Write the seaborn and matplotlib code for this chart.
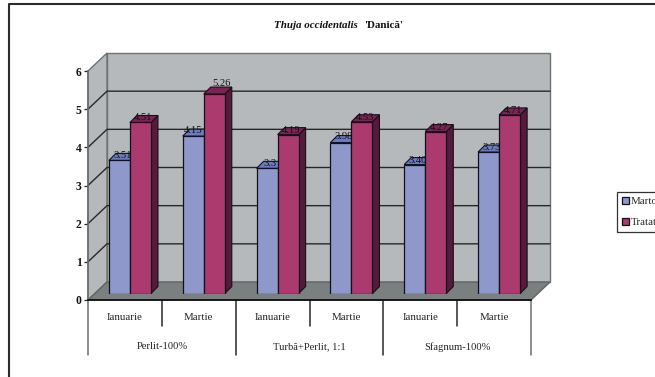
import matplotlib
matplotlib.use("Agg")
import matplotlib.pyplot as plt
import numpy as np
import pandas as pd
import seaborn as sns
from matplotlib.lines import Line2D
from matplotlib.patches import Polygon, Patch
from matplotlib.transforms import blended_transform_factory

sns.set_style("white")
plt.rcParams["font.family"] = ["Liberation Serif", "DejaVu Serif"]

# Measurements per substrate and month
substrates = ["Perlit-100%", "Turbă+Perlit, 1:1", "Sfagnum-100%"]
months = ["Ianuarie", "Martie", "Ianuarie", "Martie", "Ianuarie", "Martie"]
martor_labels = ["3.51", "4.15", "3.3", "3.98", "3.40", "3.73"]
tratat_labels = ["4.51", "5.26", "4.19", "4.53", "4.27", "4.71"]
y_ticks = [0, 1, 2, 3, 4, 5, 6]

W, H = 655, 377
BLUE, RED = "#8f98cb", "#ab3a6e"
BLUE_TOP, RED_TOP = "#6a7bc0", "#7d2354"
BLUE_SIDE, RED_SIDE = "#4c5690", "#551a3c"
EDGE = "#14101a"


def px_axes(fig, left, right, top, bottom):
    return fig.add_axes([left / W, 1 - bottom / H, (right - left) / W, (bottom - top) / H])


fig = plt.figure(figsize=(W / 100, H / 100), dpi=100, facecolor="white")

# Outer chart frame: only its left and top edges fall inside the canvas
fig.add_artist(Line2D([8.5 / W, 8.5 / W, 1], [0, 1 - 4 / H, 1 - 4 / H], color="#2c2c2c", lw=1.5))

# Front plane carries the axis lines, ticks and the walls of the 3D box
ax = px_axes(fig, 88, 531, 71, 300)
ax.set_zorder(2)
ax.set_xlim(-0.5, 5.5)
ax.set_ylim(0, 6)
ax.patch.set_visible(False)
sns.despine(ax=ax, top=True, right=True)
ax.spines["left"].set_color("#6f6f6f")
ax.spines["left"].set_linewidth(1.2)
ax.spines["bottom"].set_color("#111111")
ax.spines["bottom"].set_linewidth(1.3)
ax.set_yticks(y_ticks)
ax.set_yticklabels([str(t) for t in y_ticks], fontsize=8.4, fontweight="bold", color="#111111")
ax.tick_params(axis="y", left=True, length=3, width=0.9, color="#222222", pad=1.5)

slots = np.arange(len(months))
ax.set_xticks(slots)
ax.set_xticklabels(months, fontsize=7.8, color="#222222")
ax.tick_params(axis="x", bottom=False, length=0, pad=9.5)

# Two-level category axis: short dividers between months, long ones between substrates
xt = blended_transform_factory(ax.transData, ax.transAxes)
for b in np.arange(-0.5, 6.0, 1.0):
    is_group = int(b + 0.5) % 2 == 0
    drop = 55 if is_group else 26
    colour = "#6f6f6f" if b in (-0.5, 5.5) else "#2a2a2a"
    ax.plot([b, b], [0, -drop / 229], transform=xt, color=colour, lw=1.1, clip_on=False, zorder=1)
for i, name in enumerate(substrates):
    ax.text(2 * i + 0.5, -46.7 / 229, name, transform=xt, ha="center", va="center",
            fontsize=7.6, color="#222222")


def front_px(x, y):
    return ax.transData.transform((x, y))


def face(points, **kw):
    fig.add_artist(Polygon(points, closed=True, transform=None, **kw))


# Walls, floor and gridlines of the box sit behind both axes
box = np.array([19, 18])
x0, x1 = ax.get_xlim()
wall = dict(facecolor="#b6b9bb", edgecolor="#6f7272", lw=1.0, zorder=0.2)
p00, p10, p06, p16 = front_px(x0, 0), front_px(x1, 0), front_px(x0, 6), front_px(x1, 6)
face([p00 + box, p10 + box, p16 + box, p06 + box], **wall)
face([p00, p00 + box, p06 + box, p06], **wall)
face([p00, p10, p10 + box, p00 + box], facecolor="#7a8080", edgecolor="#5f6464", lw=1.0, zorder=0.3)
for t in y_ticks[1:-1]:
    a, b = front_px(x0, t), front_px(x1, t)
    fig.add_artist(Line2D([a[0], a[0] + box[0], b[0] + box[0]], [a[1], a[1] + box[1], b[1] + box[1]],
                          transform=None, color="#262828", lw=1.0, zorder=0.4))

# Bars sit on their own transparent plane, slightly behind the front of the box
bar_ax = px_axes(fig, 93, 536, 66, 293.5)
bar_ax.set_zorder(3)
bar_ax.patch.set_visible(False)
frame = pd.DataFrame({
    "slot": np.tile(slots, 2),
    "value": [float(s) for s in martor_labels] + [float(s) for s in tratat_labels],
    "label": martor_labels + tratat_labels,
    "series": ["Martor"] * 6 + ["Tratat"] * 6,
})
sns.barplot(data=frame, x="slot", y="value", hue="series", hue_order=["Martor", "Tratat"],
            palette=[BLUE, RED], width=0.57, gap=0, saturation=1, edgecolor=EDGE, linewidth=0.9,
            legend=False, ax=bar_ax, zorder=3)
bar_ax.set_xlim(-0.5, 5.5)
bar_ax.set_ylim(0, 6)
bar_ax.set_axis_off()

# Extrude every bar: side and top faces, then the value above it
depth = 7
nudges = {"5.26": (7, 11), "4.15": (0, 6), "3.98": (3, 6)}
bars = sorted(bar_ax.patches, key=lambda r: r.get_x())
lookup = {(row.slot, row.series): row for row in frame.itertuples()}
for n, rect in enumerate(bars):
    is_blue = n % 2 == 0
    row = lookup[(n // 2, "Martor" if is_blue else "Tratat")]
    l, r = rect.get_x(), rect.get_x() + rect.get_width()
    (xl, yb) = bar_ax.transData.transform((l, 0))
    (xr, yt) = bar_ax.transData.transform((r, row.value))
    z = 2.0 + n * 0.01
    style = dict(edgecolor=EDGE, lw=0.8, zorder=z)
    bar_ax.add_patch(Polygon([(xr, yb), (xr + depth, yb + depth), (xr + depth, yt + depth), (xr, yt)],
                             transform=None, clip_on=False,
                             facecolor=BLUE_SIDE if is_blue else RED_SIDE, **style))
    bar_ax.add_patch(Polygon([(xl, yt), (xr, yt), (xr + depth, yt + depth), (xl + depth, yt + depth)],
                             transform=None, clip_on=False,
                             facecolor=BLUE_TOP if is_blue else RED_TOP, **style))
    rect.set_zorder(z + 0.005)
    dx, dy = nudges.get(row.label, (3, 4.5))
    bar_ax.annotate(row.label, ((l + r) / 2, row.value), xytext=(dx * 0.72, dy * 0.72),
                    textcoords="offset points", ha="center", va="center",
                    fontsize=7.6, color="#111111", zorder=6, annotation_clip=False)

# Mixed-style title
fig.text(357.5 / W, 1 - 26 / H, "Thuja occidentalis", ha="right", va="center",
         fontsize=7.9, fontweight="bold", fontstyle="italic", color="#111111")
fig.text(364 / W, 1 - 26 / H, "'Danică'", ha="left", va="center",
         fontsize=7.9, fontweight="bold", color="#111111")

# Legend runs past the right edge of the canvas
handles = [Patch(facecolor=BLUE, edgecolor=EDGE, lw=0.9, label="Martor"),
           Patch(facecolor=RED, edgecolor=EDGE, lw=0.9, label="Tratat")]
leg = fig.legend(handles=handles, loc="upper left", bbox_to_anchor=(616.5 / W, 1 - 191.5 / H),
                 bbox_transform=fig.transFigure, fontsize=7.8, frameon=True, fancybox=False,
                 edgecolor="#333333", framealpha=1, borderpad=0.5, labelspacing=1.04,
                 handlelength=0.62, handleheight=0.62, handletextpad=0.2, borderaxespad=0)
leg.get_frame().set_linewidth(0.9)

fig.savefig("out.png", dpi=100, facecolor="white")
